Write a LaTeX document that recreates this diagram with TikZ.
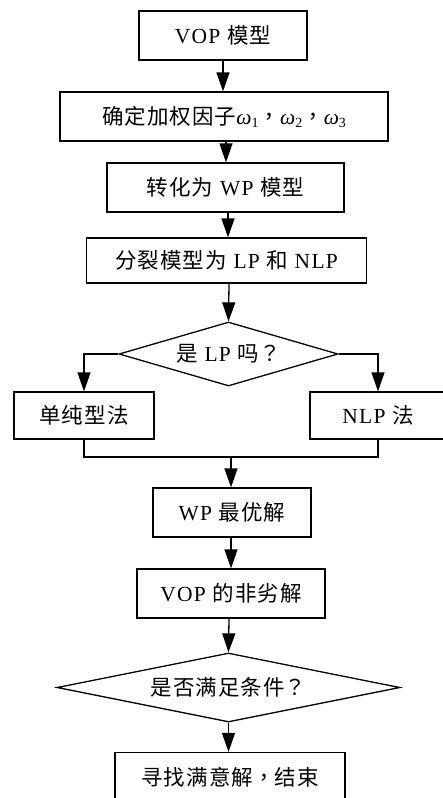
\documentclass[tikz,border=0pt]{standalone}
\usepackage{fontspec}
\setmainfont{Liberation Serif}[LetterSpace=6]
\newfontfamily\cjkfont{Noto Sans CJK SC}[LetterSpace=5]
\newfontfamily\cjkpunct{Noto Sans CJK TC}
\usetikzlibrary{shapes.geometric,arrows.meta}
\newcommand\zh[1]{{\cjkfont #1}}
\newcommand\zp[1]{{\cjkpunct #1}}
\newcommand\wsub[1]{{\itshape ω}\raisebox{-0.3ex}{\fontsize{14}{14}\selectfont #1}}
\begin{document}
\begin{tikzpicture}[x=1pt,y=-1pt,
  every node/.style={font=\fontsize{21.5}{24}\selectfont},
  box/.style={draw,line width=1.3pt,minimum height=49pt,inner sep=0pt},
  dia/.style={draw,diamond,line width=1.3pt,inner sep=0pt},
  arr/.style={line width=1.3pt,-{Triangle[length=19pt,width=13pt]}},
  ln/.style={line width=1.3pt}]
\clip (0,0) rectangle (443,798);
\node[box,minimum width=168pt] (b1) at (223,35.5) {VOP \zh{模型}};
\node[box,minimum width=328pt] (b2) at (224,116.5) {\zh{确定加权因子}\wsub{1}\zp{，}\wsub{2}\zp{，}\wsub{3}};
\node[box,minimum width=237pt] (b3) at (225.5,187.5) {\zh{转化为} WP \zh{模型}};
\node[box,minimum width=280pt,minimum height=45pt] (b4) at (226.5,260.5) {\zh{分裂模型为} LP \zh{和} NLP};
\node[dia,minimum width=219pt,minimum height=64pt,aspect=3.4] (d1) at (228.5,354) {\zh{是} LP \zh{吗}\zp{？}};
\node[box,minimum width=140pt,minimum height=47pt] (L) at (84,415.5) {\zh{单纯型法}};
\node[box,minimum width=136pt,minimum height=47pt] (R) at (378,415.5) {NLP \zh{法}};
\coordinate (j) at (231,457);
\node[box,minimum width=158pt] (b5) at (232,512.5) {WP \zh{最优解}};
\node[box,minimum width=188pt] (b6) at (231,593.5) {VOP \zh{的非劣解}};
\node[dia,minimum width=343pt,minimum height=69pt,aspect=5] (d2) at (228.5,687.5) {\zh{是否满足条件}\zp{？}};
\node[box,minimum width=230pt] (b7) at (230,777) {\zh{寻找满意解}\zp{，}\zh{结束}};
\draw[arr] (b1.south) -- (b1.south |- b2.north);
\draw[arr] ([xshift=2pt]b2.south) -- ([xshift=2pt]b2.south |- b3.north);
\draw[arr] ([xshift=2.5pt]b3.south) -- ([xshift=2.5pt]b3.south |- b4.north);
\draw[arr] ([xshift=2.5pt]b4.south) -- (d1.north);
\draw[arr] (d1.west) -| (L.north);
\draw[arr] (d1.east) -| (R.north);
\draw[ln] (L.south) |- (j);
\draw[ln] (R.south) |- (j);
\draw[arr] (j) -- (j |- b5.north);
\draw[arr] (b5.south -| j) -- (j |- b6.north);
\draw[arr] ([xshift=-2pt]b6.south) -- (d2.north);
\draw[arr] (d2.south) -- (d2.south |- b7.north);
\end{tikzpicture}
\end{document}
